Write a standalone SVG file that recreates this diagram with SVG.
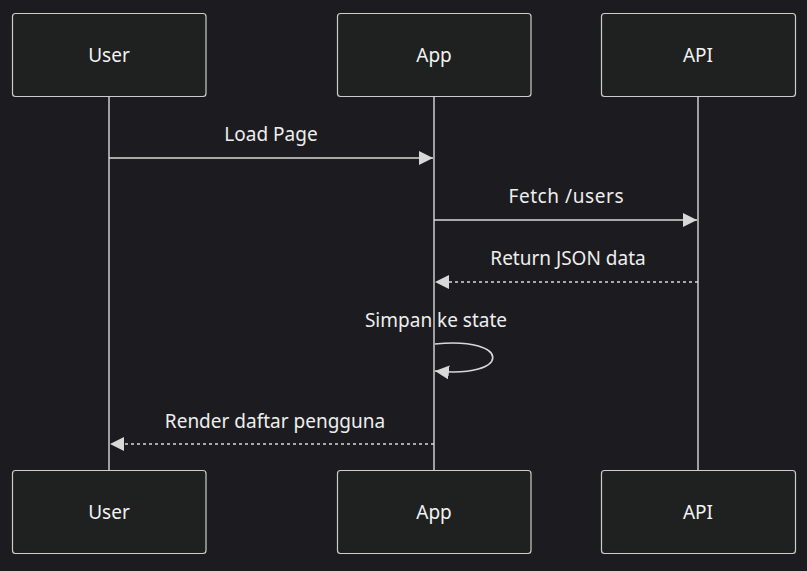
<svg xmlns="http://www.w3.org/2000/svg" width="807" height="571" viewBox="0 0 807 571">
<style>
.bg{fill:#1c1c20}
.actor rect{fill:#1f2020;stroke:#cccccc;stroke-width:1.2}
.actor text{fill:#f2f2f2;font-family:"Noto Sans","Open Sans",sans-serif;font-size:19px;text-anchor:middle;dominant-baseline:central}
.life{stroke:#cccccc;stroke-width:1.5}
.msg{stroke:#d8d8d8;stroke-width:1.6;fill:none}
.dash{stroke-dasharray:3,3}
.lbl{fill:#eeeeee;font-family:"Noto Sans","Open Sans",sans-serif;font-size:19px;text-anchor:middle}
</style>
<defs>
<marker id="ah" viewBox="0 0 14 14" refX="14" refY="7" markerWidth="14" markerHeight="14" markerUnits="userSpaceOnUse" orient="auto">
<path d="M0,0 L14,7 L0,14 Z" fill="#d8d8d8"/>
</marker>
</defs>
<rect class="bg" x="0" y="0" width="807" height="571"/>
<g id="lifelines">
<line class="life" x1="109" y1="96" x2="109" y2="470"/>
<line class="life" x1="434" y1="96" x2="434" y2="470"/>
<line class="life" x1="698" y1="96" x2="698" y2="470"/>
</g>
<g id="actor-user-top" class="actor"><rect x="12.5" y="13.5" width="193.5" height="83" rx="3"/><text x="109" y="55">User</text></g>
<g id="actor-app-top" class="actor"><rect x="337.5" y="13.5" width="193.5" height="83" rx="3"/><text x="434" y="55">App</text></g>
<g id="actor-api-top" class="actor"><rect x="601.5" y="13.5" width="194" height="83" rx="3"/><text x="698" y="55">API</text></g>
<g id="actor-user-bottom" class="actor"><rect x="12.5" y="470.5" width="193.5" height="83" rx="3"/><text x="109" y="512">User</text></g>
<g id="actor-app-bottom" class="actor"><rect x="337.5" y="470.5" width="193.5" height="83" rx="3"/><text x="434" y="512">App</text></g>
<g id="actor-api-bottom" class="actor"><rect x="601.5" y="470.5" width="194" height="83" rx="3"/><text x="698" y="512">API</text></g>
<g id="connectors">
<line class="msg" x1="109" y1="158" x2="433" y2="158" marker-end="url(#ah)"/>
<line class="msg" x1="434" y1="220" x2="697" y2="220" marker-end="url(#ah)"/>
<line class="msg dash" x1="698" y1="282" x2="435" y2="282" marker-end="url(#ah)"/>
<path class="msg" d="M435,344 C512,336 512,379 435,371" marker-end="url(#ah)"/>
<line class="msg dash" x1="434" y1="444" x2="110" y2="444" marker-end="url(#ah)"/>
</g>
<g id="labels">
<text class="lbl" x="271" y="141">Load Page</text>
<text class="lbl" x="566" y="203" textLength="115">Fetch /users</text>
<text class="lbl" x="568" y="265">Return JSON data</text>
<text class="lbl" x="436" y="327">Simpan ke state</text>
<text class="lbl" x="275" y="428">Render daftar pengguna</text>
</g>
</svg>
